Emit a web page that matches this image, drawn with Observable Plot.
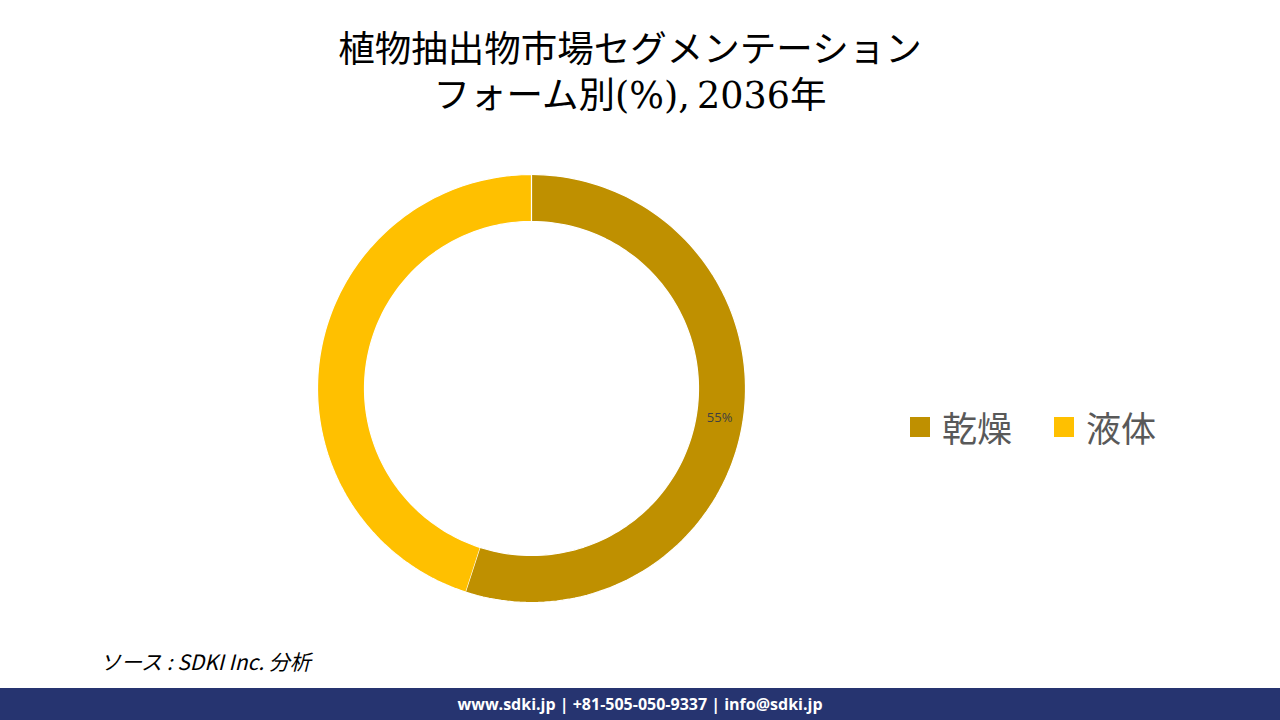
<!DOCTYPE html>
<html>
<head>
<meta charset="utf-8">
<script src="https://cdn.jsdelivr.net/npm/d3@7"></script>
<script src="https://cdn.jsdelivr.net/npm/@observablehq/plot@0.6"></script>
<style>
  html, body { margin: 0; padding: 0; background: #fff; }
  #page { position: relative; width: 1280px; height: 720px; overflow: hidden; background: #fff; }
  #title { position: absolute; left: -10px; top: 27px; width: 1280px; text-align: center;
    font-family: "DejaVu Serif", "Noto Sans CJK JP", serif; font-size: 36.5px; line-height: 46px; color: #000; }
  #chart { position: absolute; left: 0; top: 150px; }
  #legend { position: absolute; left: 910px; top: 401px; font-family: "Noto Sans CJK JP", sans-serif;
    font-size: 35px; color: #595959; display: flex; align-items: center; }
  .item { display: flex; align-items: center; margin-right: 42px; }
  .sw { width: 20px; height: 20px; margin-right: 12px; }
  #source { position: absolute; left: 100px; top: 646px; font-family: "Noto Sans CJK JP", sans-serif;
    font-style: italic; font-size: 21px; color: #000; }
  #footer { position: absolute; left: 0; top: 688px; width: 1280px; height: 32px; background: #263470;
    color: #fff; font-family: "Open Sans", sans-serif; font-weight: bold; font-size: 16px;
    text-align: center; line-height: 32px; }
</style>
</head>
<body>
<div id="page">
  <div id="title">植物抽出物市場セグメンテーション<br>フォーム別(%),&thinsp;2036年</div>
  <div id="chart"></div>
  <div id="legend"></div>
  <div id="source">ソース : SDKI Inc. 分析</div>
  <div id="footer">www.sdki.jp | +81-505-050-9337 | info@sdki.jp</div>
</div>
<script>
const categories = ["乾燥", "液体"];
const values = [55, 45];
const labels = ["55%", ""];
const colors = ["#BF9000", "#FFC000"];

const innerRatio = 167 / 214;

const pie = d3.pie().sort(null).value(d => d.value);
const arcs = pie(categories.map((name, i) => ({name, value: values[i], label: labels[i]})));

// polygon points for each ring segment (angles from top, clockwise)
const pts = [];
for (const a of arcs) {
  const n = 120;
  for (let k = 0; k <= n; k++) {
    const t = a.startAngle + (a.endAngle - a.startAngle) * k / n;
    pts.push({name: a.data.name, x: Math.sin(t), y: Math.cos(t)});
  }
  for (let k = n; k >= 0; k--) {
    const t = a.startAngle + (a.endAngle - a.startAngle) * k / n;
    pts.push({name: a.data.name, x: innerRatio * Math.sin(t), y: innerRatio * Math.cos(t)});
  }
}
const mid = (1 + innerRatio) / 2;
const labelData = arcs.map(a => {
  const t = (a.startAngle + a.endAngle) / 2;
  return {label: a.data.label, x: mid * Math.sin(t), y: mid * Math.cos(t)};
});

const cx = 531, cy = 388 - 150, R = 214;
const chart = Plot.plot({
  width: 1280,
  height: 480,
  margin: 0,
  x: {domain: [-1, 1], range: [cx - R, cx + R], axis: null},
  y: {domain: [-1, 1], range: [cy + R, cy - R], axis: null},
  color: {domain: categories, range: colors},
  marks: [
    Plot.line(pts, {x: "x", y: "y", z: "name", fill: "name", stroke: "#fff", strokeWidth: 1.2, curve: "linear"}),
    Plot.text(labelData, {x: "x", y: "y", text: "label", fill: "#404040", fontSize: 13,
      fontFamily: "Open Sans, sans-serif"})
  ]
});
document.getElementById("chart").appendChild(chart);

const legend = document.getElementById("legend");
categories.forEach((c, i) => {
  const it = document.createElement("div");
  it.className = "item";
  it.innerHTML = `<div class="sw" style="background:${colors[i]}"></div><span>${c}</span>`;
  legend.appendChild(it);
});
</script>
</body>
</html>
